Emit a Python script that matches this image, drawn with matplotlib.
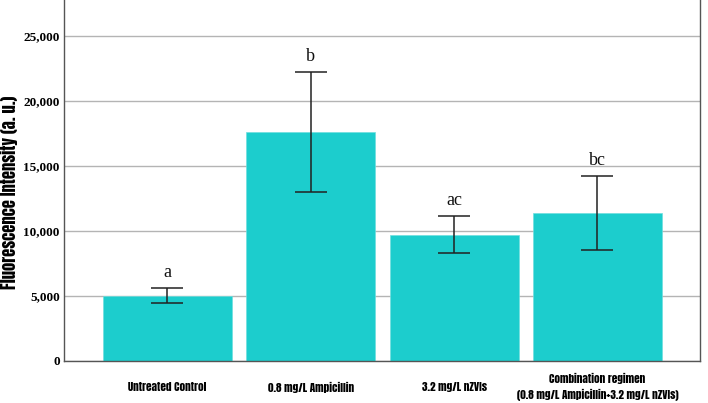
import matplotlib
matplotlib.use("Agg")
import matplotlib.pyplot as plt

categories = ["Untreated Control", "0.8 mg/L Ampicillin", "3.2 mg/L nZVIs",
              "Combination regimen\n(0.8 mg/L Ampicillin+3.2 mg/L nZVIs)"]
means = [5000, 17600, 9680, 11360]
errors = [560, 4600, 1420, 2860]
letters = ["a", "b", "ac", "bc"]
yticks = [0, 5000, 10000, 15000, 20000, 25000]
ytick_labels = ["0", "5,000", "10,000", "15,000", "20,000", "25,000"]

narrow = ["Anton", "Oswald", "DejaVu Sans"]

fig = plt.figure(figsize=(7.08, 4.03), dpi=100)
ax = fig.add_axes([64/708, 42.3/403, 636/708, 360.7/403])

x = list(range(len(categories)))
ax.bar(x, means, width=0.9, color="#1ccdcd", edgecolor="#6fdede", linewidth=0.5, zorder=2)
ax.errorbar(x, means, yerr=errors, fmt="none", ecolor="#222222", elinewidth=1.1,
            capsize=11.5, capthick=1.1, zorder=3)

for xi, m, e, lab in zip(x, means, errors, letters):
    ax.annotate(lab, (xi, m + e), xytext=(0, 5), textcoords="offset points",
                ha="center", va="bottom", fontsize=13, family="Liberation Serif",
                color="#111111")

ax.set_xlim(-0.722, 3.716)
ax.set_ylim(0, 27750)
ax.set_yticks(yticks)
ax.set_yticklabels(ytick_labels, family="Liberation Serif", fontweight="bold", fontsize=9.5)
ax.set_xticks(x)
ax.set_xticklabels(categories, family=narrow, fontsize=8,
                   linespacing=1.45, va="center")
ax.tick_params(axis="y", length=0, pad=3)
ax.tick_params(axis="x", length=0, pad=19)

ax.yaxis.grid(True, color="#b4b4b4", linewidth=1.0, zorder=0)
ax.set_axisbelow(True)
for s in ["left", "right", "bottom"]:
    ax.spines[s].set_color("#555555")
    ax.spines[s].set_linewidth(1.0)
ax.spines["top"].set_visible(False)

fig.text(9/708, 1 - 192.5/403, "Fluorescence Intensity (a. u.)", family=narrow,
         fontsize=12, rotation=90, ha="center", va="center")

fig.savefig("out.png", dpi=100)
